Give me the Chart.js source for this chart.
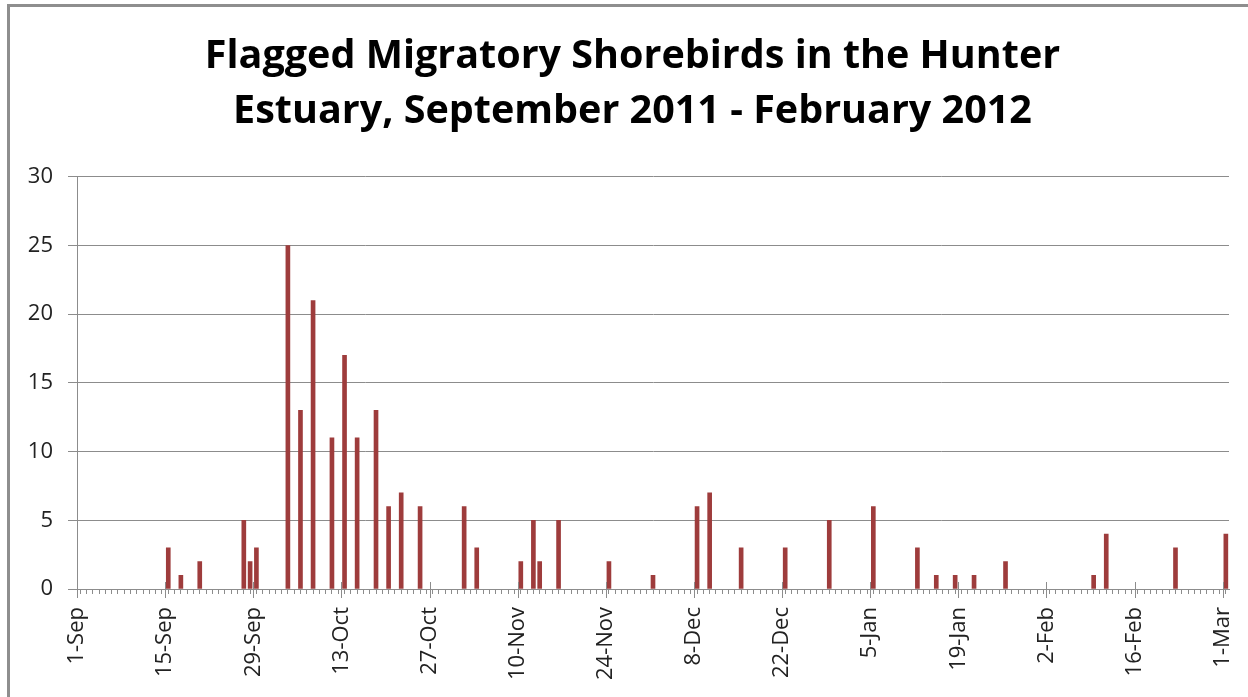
<!DOCTYPE html>
<html>
<head>
<meta charset="utf-8">
<title>Flagged Migratory Shorebirds</title>
<script src="https://cdn.jsdelivr.net/npm/chart.js@4"></script>
<style>
html, body { margin: 0; padding: 0; background: #fff; overflow: hidden; }
#frame { position: absolute; left: 7px; top: 4px; width: 1300px; height: 800px; border: 3px solid #8e8e8e; box-sizing: border-box; }
#wrap { position: absolute; left: 0; top: 0; width: 1248px; height: 697px; }
</style>
</head>
<body>
<div id="frame"></div>
<div id="wrap"><canvas id="chart1"></canvas></div>
<script>
// sightings of flagged birds
var startDate = '2011-09-01';
var endDate = '2012-03-01';
var dates = ['2011-09-15','2011-09-17','2011-09-20','2011-09-27','2011-09-28','2011-09-29',
             '2011-10-04','2011-10-06','2011-10-08','2011-10-11','2011-10-13','2011-10-15',
             '2011-10-18','2011-10-20','2011-10-22','2011-10-25',
             '2011-11-01','2011-11-03','2011-11-10','2011-11-12','2011-11-13','2011-11-16','2011-11-24',
             '2011-12-01','2011-12-08','2011-12-10','2011-12-15','2011-12-22','2011-12-29',
             '2012-01-05','2012-01-12','2012-01-15','2012-01-18','2012-01-21','2012-01-26',
             '2012-02-09','2012-02-11','2012-02-22','2012-03-01'];
var counts = [3, 1, 2, 5, 2, 3,
              25, 13, 21, 11, 17, 11,
              13, 6, 7, 6,
              6, 3, 2, 5, 2, 5, 2,
              1, 6, 7, 3, 3, 5,
              6, 3, 1, 1, 1, 2,
              1, 4, 3, 4];
var monthNames = ['Jan','Feb','Mar','Apr','May','Jun','Jul','Aug','Sep','Oct','Nov','Dec'];
var labelEvery = 14; // days between axis labels
var yTicks = [0, 5, 10, 15, 20, 25, 30];

function toUTC(s) {
    var p = s.split('-');
    return Date.UTC(+p[0], +p[1] - 1, +p[2]);
}
function dayIndex(s) {
    return Math.round((toUTC(s) - toUTC(startDate)) / 86400000);
}
function dayLabel(n) {
    var d = new Date(toUTC(startDate) + n * 86400000);
    return d.getUTCDate() + '-' + monthNames[d.getUTCMonth()];
}

var lastDay = dayIndex(endDate);
var points = dates.map(function (d, i) {
    return { x: dayIndex(d) + 0.5, y: counts[i] }; // bar sits in the middle of its day
});

var axisGrey = '#8c8c8c';

// longer tick marks at the labelled dates, like Excel's major ticks
var majorTicks = {
    id: 'majorTicks',
    afterDraw: function (chart) {
        var x = chart.scales.x, c = chart.ctx, y0 = chart.chartArea.bottom;
        c.save();
        c.strokeStyle = axisGrey;
        c.lineWidth = 1;
        for (var v = 0; v <= lastDay; v += labelEvery) {
            var px = Math.round(x.getPixelForValue(v)) + 0.5;
            c.beginPath();
            c.moveTo(px, y0 - 7);
            c.lineTo(px, y0 + 9);
            c.stroke();
        }
        c.restore();
    }
};

// the original title is centred a little right of the canvas middle
var titleShift = {
    id: 'titleShift',
    afterLayout: function (chart) {
        if (chart.titleBlock) chart.titleBlock.left = 36;
    }
};

var ctx = document.getElementById('chart1').getContext('2d');
var chart1 = new Chart(ctx, {
    type: 'bar',
    data: {
        datasets: [{
            label: 'Flagged birds',
            data: points,
            backgroundColor: '#9e3c3c',
            barThickness: 4
        }]
    },
    plugins: [majorTicks, titleShift],
    options: {
        responsive: true,
        maintainAspectRatio: false,
        animation: false,
        layout: { padding: { left: 10, right: 19, top: 0, bottom: 0 } },
        plugins: {
            legend: { display: false },
            tooltip: { enabled: false },
            title: {
                display: true,
                text: ['Flagged Migratory Shorebirds in the Hunter',
                       'Estuary, September 2011 - February 2012'],
                color: '#000',
                font: { family: 'Open Sans', weight: 'bold', size: 39.5, lineHeight: 1.39 },
                padding: { top: 29, bottom: 38 }
            }
        },
        scales: {
            x: {
                type: 'linear',
                min: 0,
                max: lastDay + 1,
                offset: false,
                grid: { drawOnChartArea: false, drawTicks: true, tickLength: 5, color: axisGrey },
                border: { color: axisGrey },
                ticks: {
                    stepSize: 1,
                    autoSkip: false,
                    maxRotation: 90,
                    minRotation: 90,
                    padding: 13,
                    color: '#222',
                    font: { family: 'Open Sans', size: 22 },
                    callback: function (v) { return v % labelEvery === 0 && v <= lastDay ? dayLabel(v) : ''; }
                },
                afterFit: function (s) {
                    s.height = 108;
                    s.paddingLeft = 0;
                    s.paddingRight = 0;
                }
            },
            y: {
                min: yTicks[0],
                max: yTicks[yTicks.length - 1],
                afterBuildTicks: function (s) { s.ticks = yTicks.map(function (v) { return { value: v }; }); },
                grid: { color: axisGrey, tickLength: 9 },
                border: { color: axisGrey },
                ticks: {
                    padding: 15,
                    color: '#222',
                    font: { family: 'Open Sans', size: 22 }
                },
                afterFit: function (s) { s.width = 67; }
            }
        }
    }
});
</script>
</body>
</html>
